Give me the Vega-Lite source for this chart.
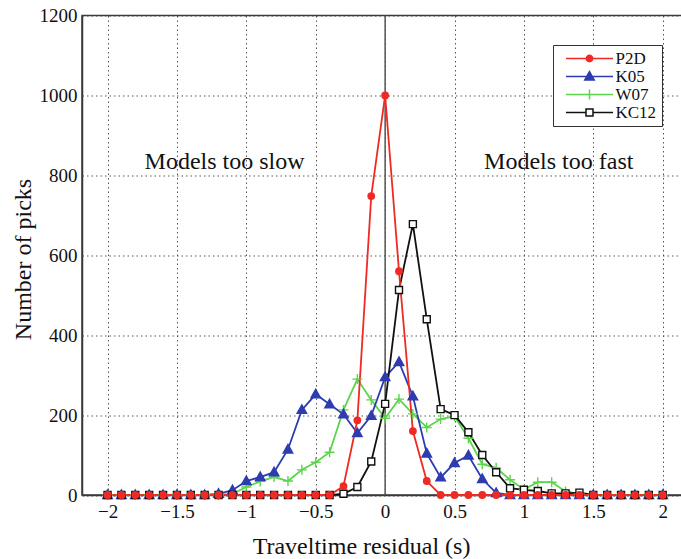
{
  "$schema": "https://vega.github.io/schema/vega-lite/v6.json",
  "width": 600,
  "height": 479.5,
  "autosize": "none",
  "padding": {"left": 82, "top": 15.5, "right": 0, "bottom": 64},
  "background": "white",
  "config": {
    "view": {"stroke": "#3a3a3a", "strokeWidth": 1.5},
    "font": "Liberation Serif",
    "axis": {
      "labelFont": "Liberation Serif",
      "labelFontSize": 19,
      "labelColor": "#111111",
      "titleFont": "Liberation Serif",
      "titleFontSize": 24,
      "titleFontWeight": "normal",
      "titleColor": "#111111",
      "domainColor": "#3a3a3a",
      "domainWidth": 1.5,
      "ticks": false,
      "grid": true,
      "gridColor": "#444444",
      "gridDash": [1.5, 3],
      "gridWidth": 1,
      "gridOpacity": 0.9
    },
    "legend": {
      "orient": "none",
      "legendX": 471,
      "legendY": 29.5,
      "fillColor": "#ffffff",
      "strokeColor": "#333333",
      "padding": 5,
      "labelFont": "Liberation Serif",
      "labelFontSize": 17,
      "labelColor": "#111111",
      "symbolSize": 196,
      "symbolOffset": 23,
      "labelOffset": 17.5,
      "rowPadding": 0,
      "symbolStrokeWidth": 1.5
    }
  },
  "datasets": {
    "curves": [
      {"m":"W07","x":-2,"y":0},{"m":"W07","x":-1.9,"y":0},{"m":"W07","x":-1.8,"y":0},{"m":"W07","x":-1.7,"y":0},{"m":"W07","x":-1.6,"y":0},{"m":"W07","x":-1.5,"y":0},{"m":"W07","x":-1.4,"y":0},{"m":"W07","x":-1.3,"y":0},{"m":"W07","x":-1.2,"y":0},{"m":"W07","x":-1.1,"y":3},{"m":"W07","x":-1,"y":20},{"m":"W07","x":-0.9,"y":34},{"m":"W07","x":-0.8,"y":45},{"m":"W07","x":-0.7,"y":35},{"m":"W07","x":-0.6,"y":63},{"m":"W07","x":-0.5,"y":82},{"m":"W07","x":-0.4,"y":107},{"m":"W07","x":-0.3,"y":213},{"m":"W07","x":-0.2,"y":290},{"m":"W07","x":-0.1,"y":238},{"m":"W07","x":0,"y":192},{"m":"W07","x":0.1,"y":240},{"m":"W07","x":0.2,"y":203},{"m":"W07","x":0.3,"y":169},{"m":"W07","x":0.4,"y":190},{"m":"W07","x":0.5,"y":197},{"m":"W07","x":0.6,"y":142},{"m":"W07","x":0.7,"y":77},{"m":"W07","x":0.8,"y":68},{"m":"W07","x":0.9,"y":38},{"m":"W07","x":1,"y":14},{"m":"W07","x":1.1,"y":32},{"m":"W07","x":1.2,"y":32},{"m":"W07","x":1.3,"y":9},{"m":"W07","x":1.4,"y":3},{"m":"W07","x":1.5,"y":0},{"m":"W07","x":1.6,"y":0},{"m":"W07","x":1.7,"y":0},{"m":"W07","x":1.8,"y":0},{"m":"W07","x":1.9,"y":0},{"m":"W07","x":2,"y":0},
      {"m":"K05","x":-2,"y":0},{"m":"K05","x":-1.9,"y":0},{"m":"K05","x":-1.8,"y":0},{"m":"K05","x":-1.7,"y":0},{"m":"K05","x":-1.6,"y":0},{"m":"K05","x":-1.5,"y":0},{"m":"K05","x":-1.4,"y":0},{"m":"K05","x":-1.3,"y":0},{"m":"K05","x":-1.2,"y":3},{"m":"K05","x":-1.1,"y":12},{"m":"K05","x":-1,"y":35},{"m":"K05","x":-0.9,"y":45},{"m":"K05","x":-0.8,"y":57},{"m":"K05","x":-0.7,"y":114},{"m":"K05","x":-0.6,"y":213},{"m":"K05","x":-0.5,"y":252},{"m":"K05","x":-0.4,"y":227},{"m":"K05","x":-0.3,"y":202},{"m":"K05","x":-0.2,"y":155},{"m":"K05","x":-0.1,"y":198},{"m":"K05","x":0,"y":295},{"m":"K05","x":0.1,"y":333},{"m":"K05","x":0.2,"y":247},{"m":"K05","x":0.3,"y":104},{"m":"K05","x":0.4,"y":44},{"m":"K05","x":0.5,"y":80},{"m":"K05","x":0.6,"y":99},{"m":"K05","x":0.7,"y":40},{"m":"K05","x":0.8,"y":5},{"m":"K05","x":0.9,"y":0},{"m":"K05","x":1,"y":0},{"m":"K05","x":1.1,"y":0},{"m":"K05","x":1.2,"y":0},{"m":"K05","x":1.3,"y":0},{"m":"K05","x":1.4,"y":0},{"m":"K05","x":1.5,"y":0},{"m":"K05","x":1.6,"y":0},{"m":"K05","x":1.7,"y":0},{"m":"K05","x":1.8,"y":0},{"m":"K05","x":1.9,"y":0},{"m":"K05","x":2,"y":0},
      {"m":"KC12","x":-2,"y":0},{"m":"KC12","x":-1.9,"y":0},{"m":"KC12","x":-1.8,"y":0},{"m":"KC12","x":-1.7,"y":0},{"m":"KC12","x":-1.6,"y":0},{"m":"KC12","x":-1.5,"y":0},{"m":"KC12","x":-1.4,"y":0},{"m":"KC12","x":-1.3,"y":0},{"m":"KC12","x":-1.2,"y":0},{"m":"KC12","x":-1.1,"y":0},{"m":"KC12","x":-1,"y":0},{"m":"KC12","x":-0.9,"y":0},{"m":"KC12","x":-0.8,"y":0},{"m":"KC12","x":-0.7,"y":0},{"m":"KC12","x":-0.6,"y":0},{"m":"KC12","x":-0.5,"y":0},{"m":"KC12","x":-0.4,"y":0},{"m":"KC12","x":-0.3,"y":3},{"m":"KC12","x":-0.2,"y":20},{"m":"KC12","x":-0.1,"y":84},{"m":"KC12","x":0,"y":228},{"m":"KC12","x":0.1,"y":513},{"m":"KC12","x":0.2,"y":678},{"m":"KC12","x":0.3,"y":440},{"m":"KC12","x":0.4,"y":215},{"m":"KC12","x":0.5,"y":200},{"m":"KC12","x":0.6,"y":157},{"m":"KC12","x":0.7,"y":100},{"m":"KC12","x":0.8,"y":57},{"m":"KC12","x":0.9,"y":17},{"m":"KC12","x":1,"y":13},{"m":"KC12","x":1.1,"y":10},{"m":"KC12","x":1.2,"y":4},{"m":"KC12","x":1.3,"y":4},{"m":"KC12","x":1.4,"y":6},{"m":"KC12","x":1.5,"y":0},{"m":"KC12","x":1.6,"y":0},{"m":"KC12","x":1.7,"y":0},{"m":"KC12","x":1.8,"y":0},{"m":"KC12","x":1.9,"y":0},{"m":"KC12","x":2,"y":0},
      {"m":"P2D","x":-2,"y":0},{"m":"P2D","x":-1.9,"y":0},{"m":"P2D","x":-1.8,"y":0},{"m":"P2D","x":-1.7,"y":0},{"m":"P2D","x":-1.6,"y":0},{"m":"P2D","x":-1.5,"y":0},{"m":"P2D","x":-1.4,"y":0},{"m":"P2D","x":-1.3,"y":0},{"m":"P2D","x":-1.2,"y":0},{"m":"P2D","x":-1.1,"y":0},{"m":"P2D","x":-1,"y":0},{"m":"P2D","x":-0.9,"y":0},{"m":"P2D","x":-0.8,"y":0},{"m":"P2D","x":-0.7,"y":0},{"m":"P2D","x":-0.6,"y":0},{"m":"P2D","x":-0.5,"y":0},{"m":"P2D","x":-0.4,"y":0},{"m":"P2D","x":-0.3,"y":22},{"m":"P2D","x":-0.2,"y":187},{"m":"P2D","x":-0.1,"y":748},{"m":"P2D","x":0,"y":1000},{"m":"P2D","x":0.1,"y":560},{"m":"P2D","x":0.2,"y":160},{"m":"P2D","x":0.3,"y":35},{"m":"P2D","x":0.4,"y":0},{"m":"P2D","x":0.5,"y":0},{"m":"P2D","x":0.6,"y":0},{"m":"P2D","x":0.7,"y":0},{"m":"P2D","x":0.8,"y":0},{"m":"P2D","x":0.9,"y":0},{"m":"P2D","x":1,"y":0},{"m":"P2D","x":1.1,"y":0},{"m":"P2D","x":1.2,"y":0},{"m":"P2D","x":1.3,"y":0},{"m":"P2D","x":1.4,"y":0},{"m":"P2D","x":1.5,"y":0},{"m":"P2D","x":1.6,"y":0},{"m":"P2D","x":1.7,"y":0},{"m":"P2D","x":1.8,"y":0},{"m":"P2D","x":1.9,"y":0},{"m":"P2D","x":2,"y":0}
    ]
  },
  "data": {"name": "curves"},
  "layer": [
    {
      "data": {"values": [{"zero": 0}]},
      "mark": {"type": "rule", "color": "#555555", "strokeWidth": 1.5},
      "encoding": {
        "x": {"field": "zero", "type": "quantitative"}
      }
    },
    {
      "mark": {"type": "line", "strokeWidth": 1.8},
      "encoding": {
        "x": {
          "field": "x", "type": "quantitative",
          "scale": {"domain": [-2.184, 2.139], "nice": false, "zero": false},
          "axis": {
            "title": "Traveltime residual (s)",
            "values": [-2, -1.5, -1, -0.5, 0, 0.5, 1, 1.5, 2],
            "format": ".1~f",
            "labelPadding": 7,
            "titleX": 279,
            "titleY": 58,
            "titleBaseline": "alphabetic"
          }
        },
        "y": {
          "field": "y", "type": "quantitative",
          "scale": {"domain": [0, 1200], "nice": false},
          "axis": {
            "title": "Number of picks",
            "values": [0, 200, 400, 600, 800, 1000, 1200],
            "format": "d",
            "labelPadding": 5,
            "titleX": -52,
            "titleY": 243.5,
            "titleBaseline": "alphabetic"
          }
        },
        "stroke": {
          "field": "m", "type": "nominal",
          "scale": {"domain": ["P2D", "K05", "W07", "KC12"], "range": ["#ee2a24", "#2d3cb0", "#5cd44c", "#111111"]},
          "legend": {"title": null}
        }
      }
    },
    {
      "transform": [{"filter": "datum.m === 'W07'"}],
      "mark": {"type": "point", "shape": "M-1,0H1M0,-1V1", "size": 100, "strokeWidth": 1.4, "stroke": "#5cd44c", "fill": "transparent", "opacity": 1},
      "encoding": {
        "x": {"field": "x", "type": "quantitative"},
        "y": {"field": "y", "type": "quantitative"}
      }
    },
    {
      "transform": [{"filter": "datum.m === 'K05'"}],
      "mark": {"type": "point", "shape": "M0,-1L0.95,0.7L-0.95,0.7Z", "size": 100, "strokeWidth": 1.4, "stroke": "#2d3cb0", "fill": "#2d3cb0", "opacity": 1},
      "encoding": {
        "x": {"field": "x", "type": "quantitative"},
        "y": {"field": "y", "type": "quantitative"}
      }
    },
    {
      "transform": [{"filter": "datum.m === 'KC12'"}],
      "mark": {"type": "point", "shape": "M-0.7,-0.7H0.7V0.7H-0.7Z", "size": 100, "strokeWidth": 1.4, "stroke": "#111111", "fill": "#ffffff", "opacity": 1},
      "encoding": {
        "x": {"field": "x", "type": "quantitative"},
        "y": {"field": "y", "type": "quantitative"}
      }
    },
    {
      "transform": [{"filter": "datum.m === 'P2D'"}],
      "mark": {"type": "point", "shape": "M0.64,0A0.64,0.64,0,1,1,-0.64,0A0.64,0.64,0,1,1,0.64,0Z", "size": 100, "strokeWidth": 1.4, "stroke": "#ee2a24", "fill": "#ee2a24", "opacity": 1},
      "encoding": {
        "x": {"field": "x", "type": "quantitative"},
        "y": {"field": "y", "type": "quantitative"}
      }
    },
    {
      "data": {"values": [
        {"label": "Models too slow", "lx": -1.157, "ly": 816},
        {"label": "Models too fast", "lx": 1.251, "ly": 816}
      ]},
      "mark": {"type": "text", "font": "Liberation Serif", "fontSize": 24, "color": "#111111", "align": "center", "baseline": "alphabetic"},
      "encoding": {
        "x": {"field": "lx", "type": "quantitative"},
        "y": {"field": "ly", "type": "quantitative"},
        "text": {"field": "label"}
      }
    },
    {
      "transform": [{"filter": "false"}],
      "mark": {"type": "point", "size": 196, "strokeWidth": 1.5, "opacity": 1},
      "encoding": {
        "shape": {
          "field": "m", "type": "nominal",
          "scale": {"domain": ["P2D", "K05", "W07", "KC12"], "range": [
            "M-3.36,0H3.36M0.46,0A0.46,0.46,0,1,1,-0.46,0A0.46,0.46,0,1,1,0.46,0Z",
            "M-3.36,0H3.36M0,-0.71L0.68,0.5L-0.68,0.5Z",
            "M-3.36,0H3.36M0,-0.71V0.71",
            "M-3.36,0H-0.5M0.5,0H3.36M-0.5,-0.5H0.5V0.5H-0.5Z"
          ]},
          "legend": {"title": null}
        },
        "stroke": {"field": "m", "type": "nominal", "legend": {"title": null}},
        "fill": {
          "field": "m", "type": "nominal",
          "scale": {"domain": ["P2D", "K05", "W07", "KC12"], "range": ["#ee2a24", "#2d3cb0", "transparent", "#ffffff"]},
          "legend": {"title": null}
        }
      }
    }
  ]
}
